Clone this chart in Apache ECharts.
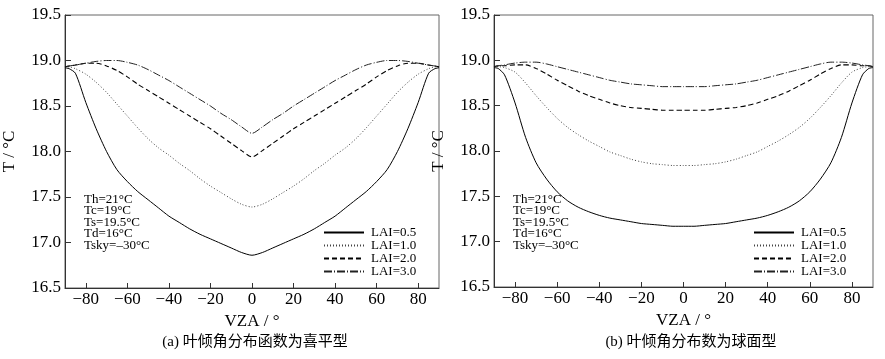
<!DOCTYPE html>
<html>
<head>
<meta charset="utf-8">
<script src="https://cdn.jsdelivr.net/npm/echarts@6/dist/echarts.min.js"></script>
<style>
html,body{margin:0;padding:0;background:#fff;}
#c{width:885px;height:359px;}
</style>
</head>
<body>
<div id="c"></div>
<script>
// View zenith angles (degrees)
const vza = [-90,-88,-85,-80,-75,-70,-65,-60,-55,-50,-45,-40,-35,-30,-25,-20,-15,-10,-5,0,5,10,15,20,25,30,35,40,45,50,55,60,65,70,75,80,85,88,90];
const seriesNames = ['LAI=0.5','LAI=1.0','LAI=2.0','LAI=3.0'];
const xTicks = [-80,-60,-40,-20,0,20,40,60,80];
const yTicks = [16.5,17.0,17.5,18.0,18.5,19.0,19.5];

// (a) planophile
const a_lai05 = [18.92,18.91,18.86,18.54,18.25,18.00,17.80,17.67,17.56,17.47,17.38,17.29,17.22,17.15,17.09,17.04,16.99,16.94,16.89,16.86,16.89,16.94,16.99,17.04,17.09,17.15,17.22,17.29,17.38,17.47,17.56,17.67,17.80,18.00,18.25,18.54,18.86,18.91,18.92];
const a_lai10 = [18.93,18.93,18.91,18.85,18.76,18.65,18.52,18.39,18.26,18.14,18.04,17.96,17.87,17.79,17.70,17.62,17.55,17.48,17.42,17.39,17.42,17.48,17.55,17.62,17.70,17.79,17.87,17.96,18.04,18.14,18.26,18.39,18.52,18.65,18.76,18.85,18.91,18.93,18.93];
const a_lai20 = [18.93,18.94,18.95,18.97,18.97,18.94,18.89,18.82,18.74,18.67,18.60,18.53,18.46,18.39,18.32,18.25,18.17,18.09,18.01,17.94,18.01,18.09,18.17,18.25,18.32,18.39,18.46,18.53,18.60,18.67,18.74,18.82,18.89,18.94,18.97,18.97,18.95,18.94,18.93];
const a_lai30 = [18.93,18.94,18.95,18.97,18.99,19.00,19.00,18.98,18.95,18.90,18.84,18.78,18.71,18.64,18.57,18.50,18.42,18.35,18.27,18.20,18.27,18.35,18.42,18.50,18.57,18.64,18.71,18.78,18.84,18.90,18.95,18.98,19.00,19.00,18.99,18.97,18.95,18.94,18.93];

// (b) spherical
const b_lai05 = [18.92,18.91,18.84,18.53,18.15,17.87,17.69,17.55,17.45,17.38,17.33,17.29,17.26,17.24,17.22,17.20,17.19,17.18,17.17,17.17,17.17,17.18,17.19,17.20,17.22,17.24,17.26,17.29,17.33,17.38,17.45,17.55,17.69,17.87,18.15,18.53,18.84,18.91,18.92];
const b_lai10 = [18.93,18.93,18.92,18.87,18.75,18.61,18.48,18.36,18.26,18.18,18.11,18.05,17.99,17.95,17.91,17.88,17.86,17.85,17.84,17.84,17.84,17.85,17.86,17.88,17.91,17.95,17.99,18.05,18.11,18.18,18.26,18.36,18.48,18.61,18.75,18.87,18.92,18.93,18.93];
const b_lai20 = [18.93,18.94,18.94,18.95,18.95,18.91,18.85,18.78,18.72,18.66,18.61,18.57,18.53,18.50,18.48,18.47,18.46,18.45,18.45,18.45,18.45,18.45,18.46,18.47,18.48,18.50,18.53,18.57,18.61,18.66,18.72,18.78,18.85,18.91,18.95,18.95,18.94,18.94,18.93];
const b_lai30 = [18.93,18.94,18.95,18.97,18.98,18.98,18.96,18.93,18.90,18.87,18.84,18.81,18.78,18.76,18.74,18.73,18.72,18.71,18.71,18.71,18.71,18.71,18.72,18.73,18.74,18.76,18.78,18.81,18.84,18.87,18.90,18.93,18.96,18.98,18.98,18.97,18.95,18.94,18.93];

const paramText = 'Th=21°C\nTc=19°C\nTs=19.5°C\nTd=16°C\nTsky=\u201330°C';
const captionA = '(a) 叶倾角分布函数为喜平型';
const captionB = '(b) 叶倾角分布数为球面型';

const FONT = '"Liberation Serif","Times New Roman","Noto Sans CJK SC",serif';
const styles = [
  {type:'solid', color:'#000', width:1},
  {type:[1,2], color:'#444', width:1},
  {type:[5,3], color:'#000', width:1.1},
  {type:[8,2,1,2], color:'#222', width:1}
];

function pairs(arr){ return vza.map((x,i)=>[x,arr[i]]); }

function xAxis(gi){
  return {
    type:'value', gridIndex:gi, min:-90, max:90, interval:10,
    name:'VZA / °', nameLocation:'middle', nameGap:21,
    nameTextStyle:{fontFamily:FONT, fontSize:17, color:'#000'},
    axisLine:{show:true, onZero:false, lineStyle:{color:'#333', width:1}},
    axisTick:{show:true, inside:true, length:5, lineStyle:{color:'#333'}, customValues:xTicks},
    axisLabel:{show:true, margin:3, fontFamily:FONT, fontSize:17, color:'#000', customValues:xTicks,
      formatter:v=>(v<0?'\u2212'+Math.abs(v):String(v))},
    splitLine:{show:false}
  };
}
function yAxis(gi){
  return {
    type:'value', gridIndex:gi, min:16.5, max:19.5, interval:0.5,
    name:'T / °C', nameLocation:'middle', nameGap:47, nameRotate:90,
    nameTextStyle:{fontFamily:FONT, fontSize:17, color:'#000'},
    axisLine:{show:true, onZero:false, lineStyle:{color:'#333', width:1}},
    axisTick:{show:true, inside:true, length:6, lineStyle:{color:'#333'}, customValues:yTicks},
    axisLabel:{show:true, margin:4, fontFamily:FONT, fontSize:17, color:'#000', customValues:yTicks,
      formatter:v=>v.toFixed(1)},
    splitLine:{show:false}
  };
}

const dataA = [a_lai05,a_lai10,a_lai20,a_lai30];
const dataB = [b_lai05,b_lai10,b_lai20,b_lai30];
const series = [];
[dataA,dataB].forEach((set,gi)=>{
  set.forEach((arr,k)=>{
    series.push({
      name:seriesNames[k], type:'line', xAxisIndex:gi, yAxisIndex:gi,
      data:pairs(arr), symbol:'none', smooth:0.25, lineStyle:styles[k],
      itemStyle:{color:styles[k].color}, silent:true, animation:false, z:3
    });
  });
});

function legend(left){
  return {
    orient:'vertical', left:left, top:226, padding:0, itemGap:0,
    itemWidth:40, itemHeight:12, data:seriesNames, selectedMode:false,
    itemStyle:{opacity:0},
    textStyle:{fontFamily:FONT, fontSize:13, color:'#000', padding:[0,0,0,2]}
  };
}

const chart = echarts.init(document.getElementById('c'), null, {renderer:'canvas'});
chart.setOption({
  backgroundColor:'#fff',
  animation:false,
  grid:[
    {left:61, top:15, width:378, height:273, show:true, borderColor:'#666', borderWidth:1, containLabel:false},
    {left:494, top:15, width:379, height:272, show:true, borderColor:'#666', borderWidth:1, containLabel:false}
  ],
  xAxis:[xAxis(0), xAxis(1)],
  yAxis:[yAxis(0), yAxis(1)],
  legend:[legend(323), legend(753)],
  series:series,
  graphic:[
    {type:'text', left:84, top:193, silent:true, style:{text:paramText, font:'13px '+FONT, lineHeight:11.5, fill:'#000'}},
    {type:'text', left:513, top:193, silent:true, style:{text:paramText, font:'13px '+FONT, lineHeight:11.5, fill:'#000'}},
    {type:'text', x:255, y:342, silent:true, style:{text:captionA, font:'15px '+FONT, fill:'#000', align:'center', verticalAlign:'middle'}},
    {type:'text', x:691, y:342, silent:true, style:{text:captionB, font:'15px '+FONT, fill:'#000', align:'center', verticalAlign:'middle'}}
  ]
});
</script>
</body>
</html>
